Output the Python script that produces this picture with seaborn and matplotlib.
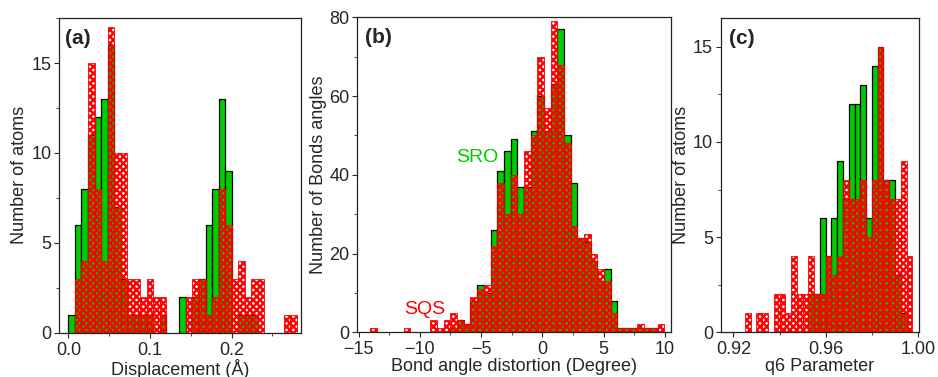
import numpy as np
import pandas as pd
import matplotlib
matplotlib.use('Agg')
import matplotlib.pyplot as plt
from matplotlib.ticker import MultipleLocator, FormatStrFormatter
import seaborn as sns

# ---- data (counts per bin) ----
# (a) displacement, bin width 0.008 starting at 0
disp_edges = np.round(np.arange(0, 36) * 0.008, 4)
disp_sro = [1, 6, 8, 11, 12, 13, 16, 7, 3, 1, 1, 1, 1, 0, 1,
            0, 0, 2, 0, 2, 3, 6, 8, 13, 9, 0, 1, 1, 1, 0,
            0, 0, 0, 0, 0]
disp_sqs = [0, 3, 4, 15, 8, 4, 17, 10, 10, 3, 3, 2, 3, 2, 2,
            0, 0, 0, 2, 3, 3, 1, 2, 8, 6, 3, 4, 2, 3, 3,
            0, 0, 0, 1, 1]

# (b) bond angle distortion, bin width 0.545
angle_edges = -14.04 + np.arange(0, 45) * 0.545
angle_sro = [0, 0, 0, 0, 0, 0, 0, 0, 0, 0, 0, 0, 1, 3, 2, 8, 12, 10, 26, 41,
             46, 49, 37, 37, 51, 60, 51, 63, 77, 50, 38, 24, 23, 18, 13, 16,
             8, 1, 1, 1, 1, 1, 1, 0]
angle_sqs = [1, 0, 0, 0, 0, 1, 0, 0, 0, 3, 1, 3, 5, 3, 2, 9, 11, 12, 22, 38,
             30, 40, 30, 46, 50, 70, 57, 79, 68, 48, 27, 24, 25, 20, 16, 13,
             5, 1, 1, 1, 2, 1, 1, 2]

# (c) q6 parameter, bin width 0.0025 starting at 0.925
q6_edges = 0.925 + np.arange(0, 30) * 0.0025
q6_sro = [0, 0, 0, 0, 0, 0, 0, 0, 0, 0, 0, 2, 2, 6, 4, 6, 9, 7, 12, 12,
          13, 6, 14, 15, 8, 8, 3, 1, 0]
q6_sqs = [1, 0, 1, 1, 0, 2, 2, 1, 4, 2, 2, 4, 2, 2, 4, 3, 4, 8, 7, 7,
          8, 5, 8, 15, 8, 7, 7, 9, 4]

GREEN = '#00cc00'
RED = '#ff0000'

sns.set_style('ticks')
plt.rcParams['font.family'] = ['Liberation Sans', 'DejaVu Sans']
plt.rcParams['font.size'] = 13
plt.rcParams['hatch.linewidth'] = 1.7
plt.rcParams['axes.linewidth'] = 0.9
plt.rcParams['axes.edgecolor'] = '#222222'


def draw_pair(ax, edges, sro, sqs):
    edges = np.asarray(edges, dtype=float)
    centers = (edges[:-1] + edges[1:]) / 2
    df = pd.DataFrame({'val': centers, 'sro': sro, 'sqs': sqs})
    n0 = len(ax.patches)
    sns.histplot(data=df, x='val', weights='sro', bins=list(edges), ax=ax,
                 color=GREEN, alpha=1, edgecolor='black', linewidth=0.9)
    for p in ax.patches[n0:]:
        if p.get_height() == 0:
            p.set_visible(False)
    n1 = len(ax.patches)
    sns.histplot(data=df, x='val', weights='sqs', bins=list(edges), ax=ax,
                 color=RED, alpha=1, linewidth=0.6)
    for p in ax.patches[n1:]:
        p.set_facecolor('none')
        p.set_edgecolor(RED)
        p.set_hatch('xxxxx')
        if p.get_height() == 0:
            p.set_visible(False)


fig = plt.figure(figsize=(9.38, 3.77), dpi=100)
ax_a = fig.add_axes([0.0629, 0.118, 0.258, 0.834])
ax_b = fig.add_axes([0.3809, 0.1186, 0.3345, 0.8355])
ax_c = fig.add_axes([0.7683, 0.1186, 0.2117, 0.833])

# (a)
draw_pair(ax_a, disp_edges, disp_sro, disp_sqs)
ax_a.set_xlim(-0.0115, 0.285)
ax_a.set_ylim(0, 17.5)
ax_a.xaxis.set_major_locator(MultipleLocator(0.1))
ax_a.xaxis.set_minor_locator(MultipleLocator(0.05))
ax_a.xaxis.set_major_formatter(FormatStrFormatter('%.1f'))
ax_a.yaxis.set_major_locator(MultipleLocator(5))
ax_a.yaxis.set_minor_locator(MultipleLocator(2.5))
ax_a.set_xlabel('Displacement (Å)')
ax_a.set_ylabel('Number of atoms')
ax_a.text(0.025, 0.965, '(a)', transform=ax_a.transAxes, va='top', ha='left',
          fontsize=15, fontweight='bold')

# (b)
draw_pair(ax_b, angle_edges, angle_sro, angle_sqs)
ax_b.set_xlim(-15.1, 10.5)
ax_b.set_ylim(0, 80)
ax_b.xaxis.set_major_locator(MultipleLocator(5))
ax_b.xaxis.set_minor_locator(MultipleLocator(2.5))
ax_b.yaxis.set_major_locator(MultipleLocator(20))
ax_b.yaxis.set_minor_locator(MultipleLocator(10))
ax_b.set_xlabel('Bond angle distortion (Degree)')
ax_b.set_ylabel('Number of Bonds angles')
ax_b.text(0.025, 0.965, '(b)', transform=ax_b.transAxes, va='top', ha='left',
          fontsize=15, fontweight='bold')
ax_b.text(-3.6, 44.5, 'SRO', color=GREEN, fontsize=14, ha='right', va='center')
ax_b.text(-7.9, 5.8, 'SQS', color=RED, fontsize=14, ha='right', va='center')

# (c)
draw_pair(ax_c, q6_edges, q6_sro, q6_sqs)
ax_c.set_xlim(0.9145, 1.0005)
ax_c.set_ylim(0, 16.5)
ax_c.xaxis.set_major_locator(MultipleLocator(0.04))
ax_c.xaxis.set_minor_locator(MultipleLocator(0.02))
ax_c.xaxis.set_major_formatter(FormatStrFormatter('%.2f'))
ax_c.yaxis.set_major_locator(MultipleLocator(5))
ax_c.yaxis.set_minor_locator(MultipleLocator(2.5))
ax_c.set_xlabel('q6 Parameter')
ax_c.set_ylabel('Number of atoms')
ax_c.text(0.04, 0.965, '(c)', transform=ax_c.transAxes, va='top', ha='left',
          fontsize=15, fontweight='bold')

for ax in (ax_a, ax_b, ax_c):
    for s in ax.spines.values():
        s.set_visible(True)
    ax.tick_params(which='major', length=3.5, width=0.8, direction='out',
                   labelsize=13)
    ax.tick_params(axis='x', which='major', pad=3)
    ax.tick_params(axis='y', which='major', pad=2)
    ax.tick_params(which='minor', length=2, width=0.6, direction='out')
    ax.xaxis.labelpad = 0
    ax.yaxis.labelpad = 2

fig.savefig('out.png', dpi=100)
